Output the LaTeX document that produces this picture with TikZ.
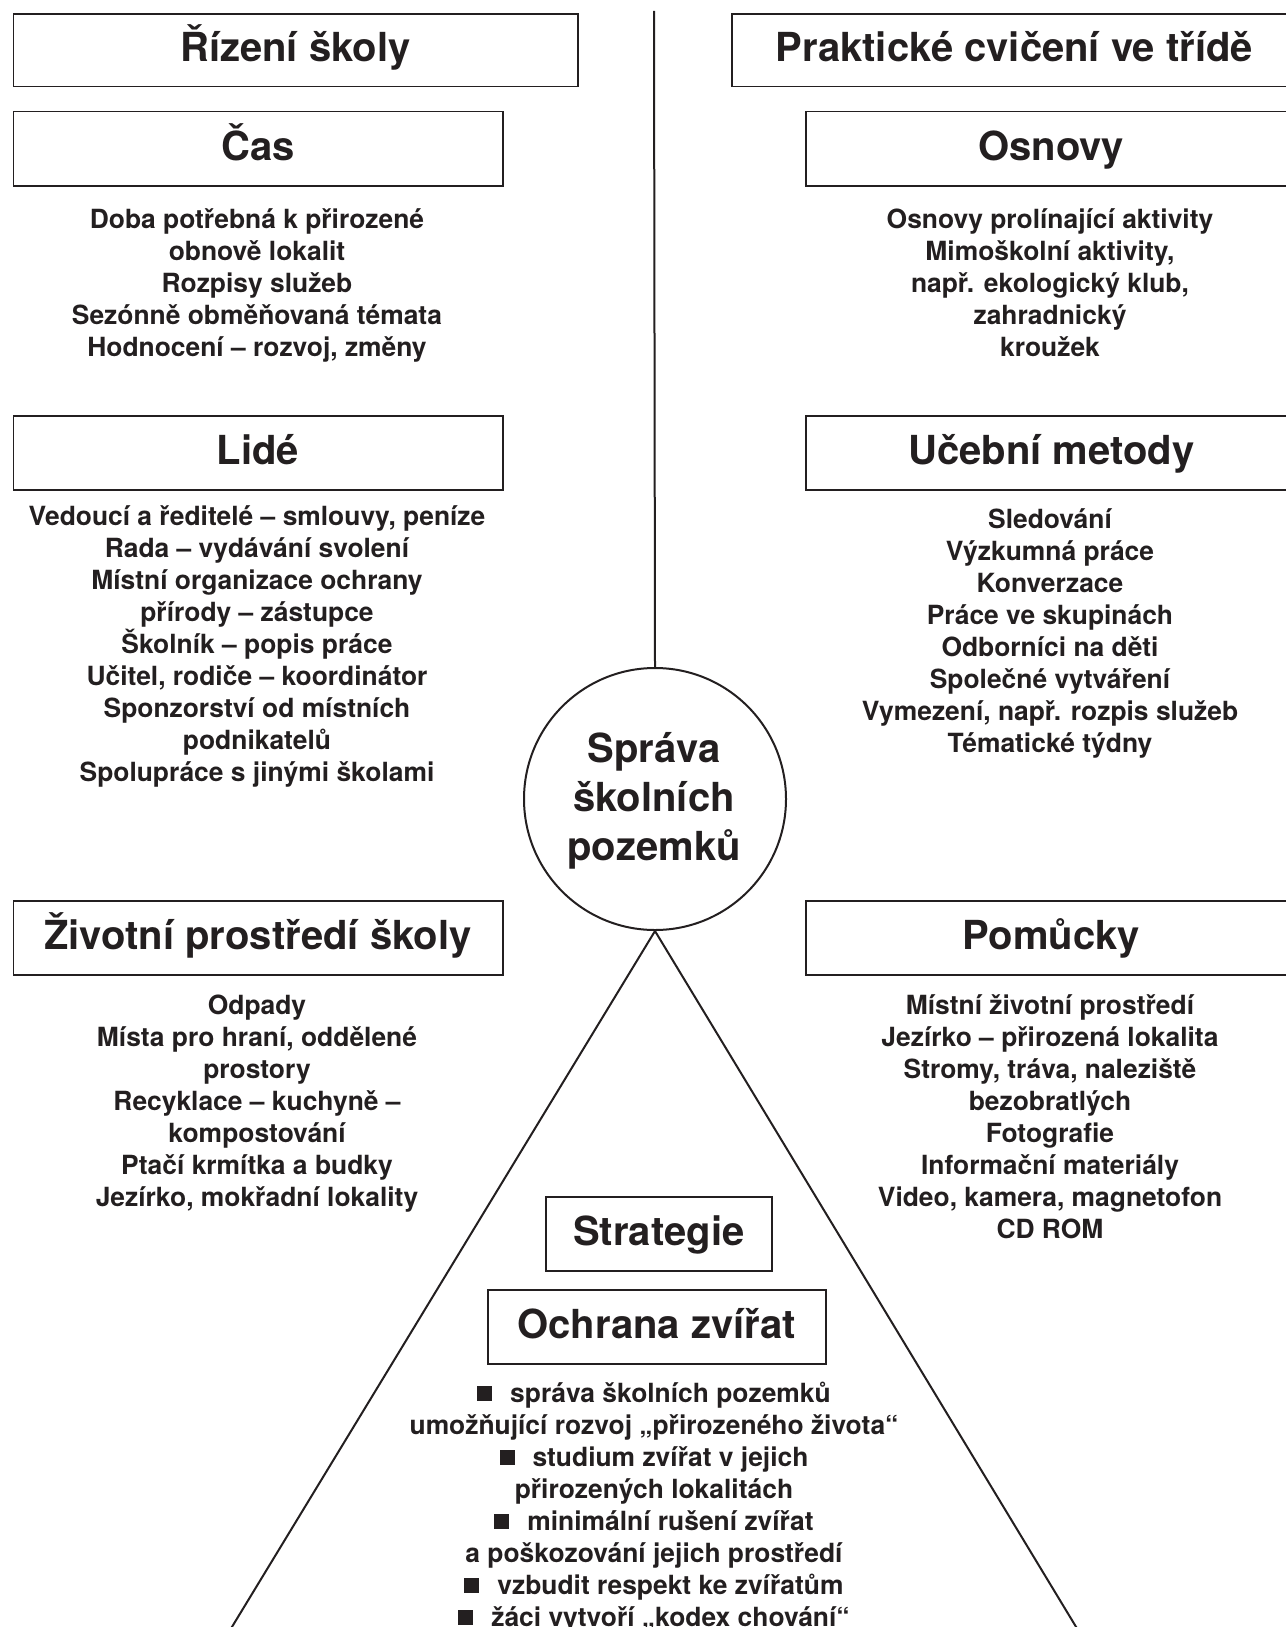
\documentclass[tikz,border=0pt]{standalone}
\usepackage{fontspec}
\setmainfont{TeX Gyre Heros}
\definecolor{ink}{HTML}{231F20}
\newcommand{\mlines}[2]{\vtop{\baselineskip=#1\lineskiplimit=-100pt\lineskip=0pt\halign{\hfil##\hfil\cr#2\crcr}}}
\newcommand{\sqb}{\rule[0.3pt]{7.5pt}{7.5pt}\hspace{9pt}}
\tikzset{
  hbox/.style={draw=ink, line width=0.75pt, anchor=north west, inner sep=0pt,
    font=\fontsize{20}{24}\selectfont\bfseries, text=ink, text height=14.3pt, text depth=3pt},
  lst/.style={anchor=base, inner sep=0pt, font=\fontsize{13.2}{16}\selectfont\bfseries, text=ink},
  big/.style={anchor=base, inner sep=0pt, font=\fontsize{20}{24}\selectfont\bfseries, text=ink},
  conn/.style={draw=ink, line width=1pt}
}
\begin{document}
\begin{tikzpicture}[x=0.5pt,y=-0.5pt]
\useasboundingbox (0,0) rectangle (1285,1627);
% left column
\node[hbox, minimum width=282.25pt, minimum height=36.25pt] (rizeni) at (12.5,13.5) {Řízení školy};
\node[hbox, minimum width=244.75pt, minimum height=37pt] (cas) at (12.5,111) {Čas};
\node[lst] (caslist) at (257,228) {\mlines{16pt}{Doba potřebná k přirozené\cr obnově lokalit\cr Rozpisy služeb\cr Sezónně obměňovaná témata\cr Hodnocení – rozvoj, změny}};
\node[hbox, minimum width=244.75pt, minimum height=37pt] (lide) at (12.5,415) {Lidé};
\node[lst] (lidelist) at (257,525) {\mlines{16pt}{Vedoucí a ředitelé – smlouvy, peníze\cr Rada – vydávání svolení\cr Místní organizace ochrany\cr přírody – zástupce\cr Školník – popis práce\cr Učitel, rodiče – koordinátor\cr Sponzorství od místních\cr podnikatelů\cr Spolupráce s jinými školami}};
\node[hbox, minimum width=244.75pt, minimum height=37pt] (zivot) at (12.5,900) {Životní prostředí školy};
\node[lst] (zivotlist) at (257,1014) {\mlines{16pt}{Odpady\cr Místa pro hraní, oddělené\cr prostory\cr Recyklace – kuchyně –\cr kompostování\cr Ptačí krmítka a budky\cr Jezírko, mokřadní lokality}};
% right column
\node[hbox, minimum width=282.5pt, minimum height=36.25pt] (prakt) at (731,13.5) {Praktické cvičení ve třídě};
\node[hbox, minimum width=245.5pt, minimum height=37pt] (osnovy) at (805,111) {Osnovy};
\node[lst] (osnovylist) at (1050,228) {\mlines{16pt}{Osnovy prolínající aktivity\cr Mimoškolní aktivity,\cr např. ekologický klub,\cr zahradnický\cr kroužek}};
\node[hbox, minimum width=245.5pt, minimum height=37pt] (metody) at (805,415) {Učební metody};
\node[lst] (metodylist) at (1050,528) {\mlines{16pt}{Sledování\cr Výzkumná práce\cr Konverzace\cr Práce ve skupinách\cr Odborníci na děti\cr Společné vytváření\cr Vymezení, např. rozpis služeb\cr Tématické týdny}};
\node[hbox, minimum width=245.5pt, minimum height=37pt] (pomucky) at (805,900) {Pomůcky};
\node[lst] (pomuckylist) at (1050,1014) {\mlines{16pt}{Místní životní prostředí\cr Jezírko – přirozená lokalita\cr Stromy, tráva, naleziště\cr bezobratlých\cr Fotografie\cr Informační materiály\cr Video, kamera, magnetofon\cr CD ROM}};
% centre
\node[circle, draw=ink, line width=1pt, minimum size=131pt, inner sep=0pt] (circ) at (655,799) {};
\node[big] (circtext) at (654,762) {\mlines{24.5pt}{Správa\cr školních\cr pozemků}};
\coordinate (vtop) at (654,11);
\coordinate (bl) at (224,1640);
\coordinate (br) at (1084,1640);
\draw[conn] (vtop) -- (circ.north);
\draw[conn] (circ.south) -- (bl);
\draw[conn] (circ.south) -- (br);
% strategy
\node[hbox, minimum width=113pt, minimum height=37pt] (strat) at (545,1196) {Strategie};
\node[hbox, minimum width=169pt, minimum height=37pt] (ochrana) at (487,1289) {Ochrana zvířat};
\node[lst] (ochranalist) at (654,1402) {\mlines{16pt}{\sqb správa školních pozemků\cr umožňující rozvoj „přirozeného života“\cr \sqb studium zvířat v jejich\cr přirozených lokalitách\cr \sqb minimální rušení zvířat\cr a poškozování jejich prostředí\cr \sqb vzbudit respekt ke zvířatům\cr \sqb žáci vytvoří „kodex chování“}};
\end{tikzpicture}
\end{document}
